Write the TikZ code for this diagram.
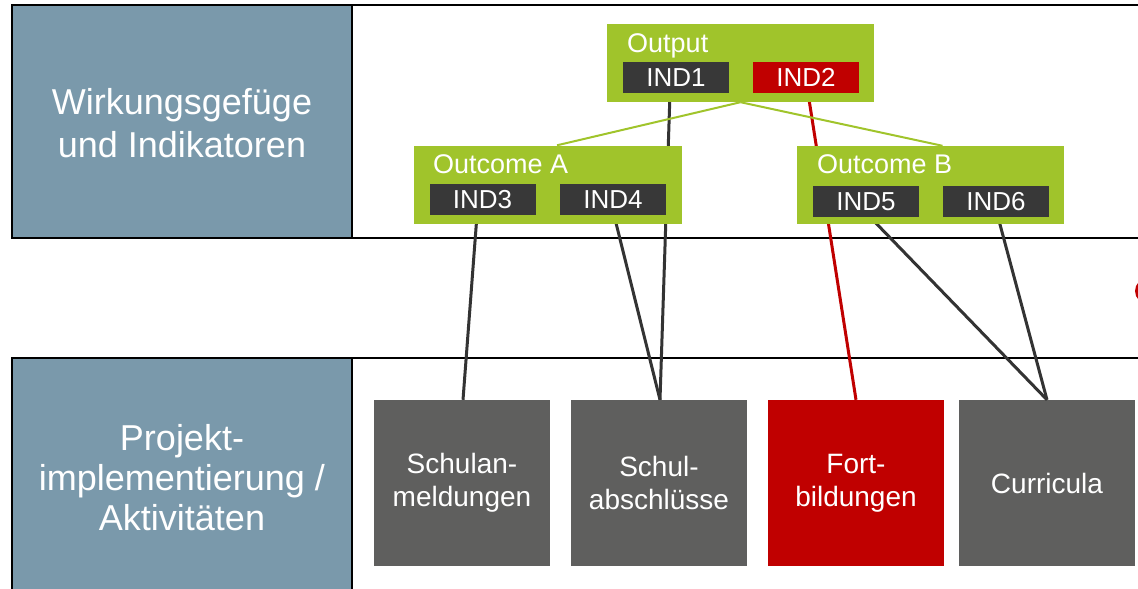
\documentclass[tikz,border=0pt]{standalone}
\usepackage{fontspec}
\setmainfont{Liberation Sans}
\definecolor{panelblue}{HTML}{7A99AB}
\definecolor{lgreen}{HTML}{A0C42B}
\definecolor{inddark}{HTML}{383838}
\definecolor{boxgray}{HTML}{5F5F5E}
\definecolor{dred}{HTML}{C00000}
\definecolor{linedark}{HTML}{333333}
\tikzset{
  frame/.style={draw=black, line width=1.6pt},
  paneltext/.style={text=white, align=center, inner sep=0pt, font=\fontsize{36}{43}\selectfont},
  groupbox/.style={fill=lgreen, inner sep=0pt, minimum width=#1, minimum height=78pt},
  grouplabel/.style={text=white, inner sep=0pt, anchor=base west, font=\fontsize{27}{30}\selectfont},
  indbox/.style={fill=inddark, text=white, inner sep=0pt, minimum width=106pt, minimum height=31pt, font=\fontsize{26}{28}\selectfont},
  indred/.style={indbox, fill=dred},
  actbox/.style={fill=boxgray, text=white, align=center, inner sep=0pt, minimum width=176pt, minimum height=166pt, font=\fontsize{28}{33}\selectfont},
  actred/.style={actbox, fill=dred},
  conn/.style={draw=linedark, line width=3pt},
  redconn/.style={draw=dred, line width=3pt},
  greenconn/.style={draw=lgreen, line width=2pt},
}
\begin{document}
\begin{tikzpicture}[x=1pt,y=-1pt]
\useasboundingbox (0,0) rectangle (1138,589);
\clip (0,0) rectangle (1138,589);
% panels
\fill[panelblue] (12,5) rectangle (352,238);
\draw[frame] (1150,5) -- (12,5) -- (12,238) -- (1150,238);
\draw[frame] (352,5) -- (352,238);
\fill[panelblue] (12,358) rectangle (352,600);
\draw[frame] (1150,358) -- (12,358) -- (12,600);
\draw[frame] (352,358) -- (352,600);
\node[paneltext] (toplabel) at (182,123) {Wirkungsgefüge\\und Indikatoren};
\node[paneltext, font=\fontsize{36}{40}\selectfont] (botlabel) at (182,478) {Projekt-\\implementierung /\\Aktivitäten};
% partial red circle at right edge
\fill[dred] (1148,291) circle (13);
% bottom activity boxes
\node[actbox] (anm) at (462,483) {Schulan-\\meldungen};
\node[actbox] (abs) at (659,483) {Schul-\\abschlüsse};
\node[actred] (fort) at (856,483) {Fort-\\bildungen};
\node[actbox] (curr) at (1047,483) {Curricula};
% group boxes (filled later, defined here as coordinates)
\coordinate (pOut) at (740.5,63);
\coordinate (pA) at (548,184.5);
\coordinate (pB) at (930.5,185);
% indicator box positions
\coordinate (c1) at (676,77.5);
\coordinate (c2) at (806,77.5);
\coordinate (c3) at (482.5,199.5);
\coordinate (c4) at (613,199.5);
\coordinate (c5) at (866,201.5);
\coordinate (c6) at (996,201.5);
% connectors start at the indicator bottoms (behind the boxes)
\coordinate (s1) at ([shift={(-6,15.5)}]c1);
\coordinate (s2) at ([shift={(2,15.5)}]c2);
\coordinate (s3) at ([shift={(-5.5,15.5)}]c3);
\coordinate (s4) at ([shift={(1,15.5)}]c4);
\coordinate (s5) at ([shift={(4,15.5)}]c5);
\coordinate (s6) at ([shift={(2,15.5)}]c6);
\draw[conn] (s1) -- ([xshift=1pt]abs.north);
\draw[redconn] (s2) -- (fort.north);
\draw[conn] (s3) -- ([xshift=1pt]anm.north);
\draw[conn] (s4) -- ([xshift=1pt]abs.north);
\draw[conn] (s5) -- (curr.north);
\draw[conn] (s6) -- (curr.north);
% group boxes
\node[groupbox=267pt] (output) at (pOut) {};
\node[groupbox=268pt] (outa) at (pA) {};
\node[groupbox=267pt] (outb) at (pB) {};
\draw[greenconn] (output.south) -- ([xshift=9pt]outa.north);
\draw[greenconn] (output.south) -- ([xshift=12pt]outb.north);
\node[grouplabel] (lout) at (627,52) {Output};
\node[grouplabel] (la) at (433,173) {Outcome A};
\node[grouplabel] (lb) at (817,173) {Outcome B};
% indicator boxes
\node[indbox] (ind1) at (c1) {IND1};
\node[indred] (ind2) at (c2) {IND2};
\node[indbox] (ind3) at (c3) {IND3};
\node[indbox] (ind4) at (c4) {IND4};
\node[indbox] (ind5) at (c5) {IND5};
\node[indbox] (ind6) at (c6) {IND6};
\end{tikzpicture}
\end{document}
